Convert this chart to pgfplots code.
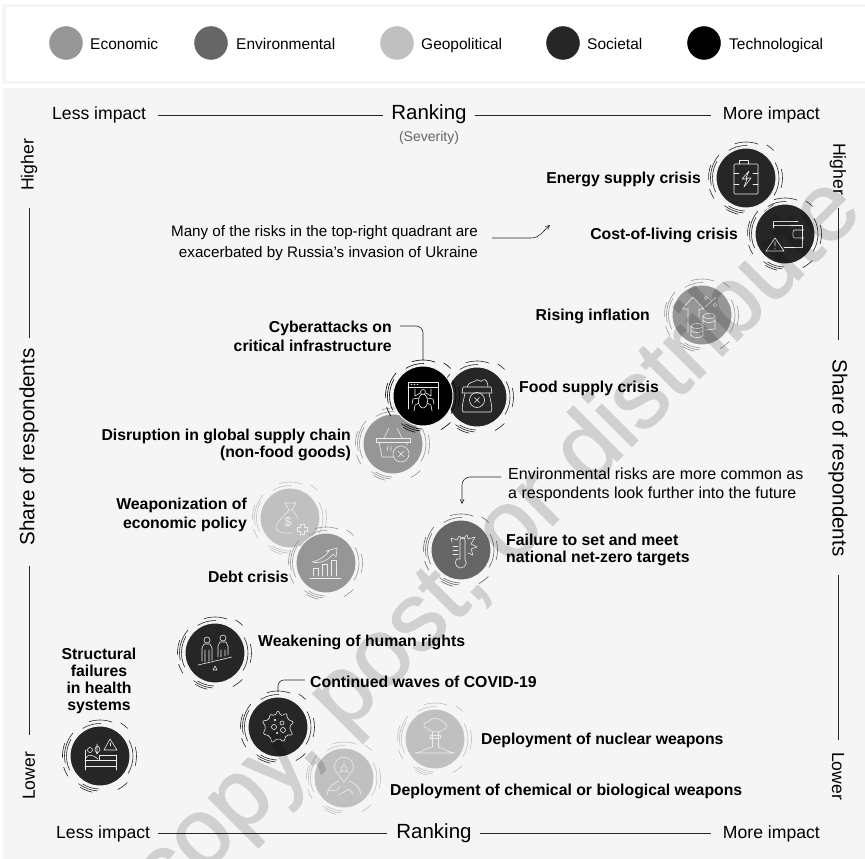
\documentclass[border=0pt]{standalone}
\usepackage{pgfplots}
\pgfplotsset{compat=1.18}
\usetikzlibrary{arrows.meta}
\usepackage{fontspec}
\setmainfont{Liberation Sans}
\newfontfamily\wmfont[FakeBold=1.5]{Liberation Sans}
\definecolor{panel}{HTML}{F5F5F5}
\definecolor{eco}{HTML}{969696}
\definecolor{env}{HTML}{666666}
\definecolor{geo}{HTML}{C0C0C0}
\definecolor{soc}{HTML}{262626}
\definecolor{tec}{HTML}{000000}
\definecolor{ico}{HTML}{EDEDED}

\newcommand{\sz}[1]{\fontsize{#1}{#1}\selectfont}

% bubble mark: disk, broken rings, icon. name, colour, ring rotation, icon
\newcommand{\riskmark}[4]{%
  \pgfdeclareplotmark{#1}{%
    \begin{scope}[x=1pt,y=1pt]
      \fill[#2,draw=panel,line width=1pt] (0,0) circle (30);
      \begin{scope}[rotate=#3,draw=#2,line width=.6pt]
        \draw (122:32.5) arc (122:88:32.5);
        \draw (108:36) arc (108:70:36);
        \draw (58:39) arc (58:45:39);
        \draw (150:33.5) arc (150:205:33.5);
        \draw (140:35.5) arc (140:192:35.5);
        \draw (160:37.5) arc (160:183:37.5);
        \draw (197:38) arc (197:212:38);
        \draw (238:33) arc (238:268:33);
        \draw (232:35) arc (232:266:35);
        \draw (238:37) arc (238:258:37);
        \draw (-62:38) arc (-62:-44:38);
        \draw (28:33) arc (28:-32:33);
        \draw (14:36.5) arc (14:-16:36.5);
      \end{scope}
      \begin{scope}[draw=ico,line width=.6pt,line cap=round,line join=round]
        #4
      \end{scope}
    \end{scope}}}

\riskmark{energy}{soc}{0}{
  \draw[rounded corners=1pt] (-12,-16) rectangle (12,14);
  \draw (-7,14) -- (-7,18) -- (2,18) -- (2,14);
  \draw (-12,5) -- (-7,5) (7,5) -- (12,5) (-12,-6) -- (-7,-6) (7,-6) -- (12,-6);
  \draw (3,7) -- (-4,-1) -- (1,-1) -- (-2,-9) -- (5,0) -- (0,0) -- cycle;}
\riskmark{cost}{soc}{0}{
  \draw (-12,6) -- (-12,13) -- (13,13);
  \draw (-12,9) -- (17,9) -- (17,-13) -- (-1,-13);
  \draw[rounded corners=2pt] (19,4) -- (8,4) -- (8,-4) -- (19,-4);
  \draw (-10,-4) -- (-19,-17) -- (-1,-17) -- cycle (-10,-8) -- (-10,-12) (-10,-14) -- (-10,-15);}
\riskmark{inflation}{eco}{0}{
  \draw (-14,-17) -- (-14,6) -- (-20,6) -- (-9,18) -- (2,6) -- (-3,6) -- (-3,-2);
  \draw (4,17) circle (1.8) (13,10) circle (1.8) (3,8) -- (14,18);
  \draw (-5,-11) ellipse (6 and 2.5) (-11,-11) -- (-11,-21) (1,-11) -- (1,-21);
  \draw (-11,-15) arc (180:360:6 and 2.5) (-11,-20) arc (180:360:6 and 2.5);
  \draw (7,-1) ellipse (6 and 2.5) (1,-1) -- (1,-9) (13,-1) -- (13,-14) -- (3,-15);
  \draw (1,-5) arc (180:360:6 and 2.5);}
\riskmark{cyber}{tec}{0}{
  \draw (-15,-13) -- (-15,14) -- (15,14) -- (15,-13);
  \draw (-15,9) -- (15,9);
  \draw (-12,11.5) -- (-11,11.5) (-9,11.5) -- (-8,11.5) (-6,11.5) -- (-5,11.5);
  \draw (0,-5) ellipse (4.5 and 7) (0,4) circle (2.5);
  \draw (-3,3) -- (-8,0) -- (-8,7) (3,3) -- (8,0) -- (8,7);
  \draw (-4,-2) -- (-10,-3) -- (-11,-8) (4,-2) -- (10,-3) -- (11,-8);
  \draw (-4,-7) -- (-8,-9) -- (-9,-15) (4,-7) -- (8,-9) -- (9,-15);}
\riskmark{food}{soc}{0}{
  \draw (-14,10) -- (14,10) -- (15,4) -- (-15,4) -- cycle;
  \draw (-12,4) .. controls (-14,-6) and (-16,-12) .. (-14,-15) -- (14,-15) .. controls (16,-12) and (14,-6) .. (12,4);
  \draw (0,-3) circle (7.5) (-2.5,-5.5) -- (2.5,-.5) (2.5,-5.5) -- (-2.5,-.5);
  \draw (-10,10) .. controls (-8,16) and (-4,14) .. (-2,16) .. controls (1,20) and (3,13) .. (6,17) .. controls (9,19) and (11,14) .. (11,10);}
\riskmark{supply}{eco}{40}{
  \draw (-17,6) -- (17,6) -- (17,2) -- (-17,2) -- cycle;
  \draw (-14,2) -- (-11,-13) -- (1,-13) (14,2) -- (14,-1);
  \draw (-9,6) -- (-4,16) (9,6) -- (4,16);
  \draw (-6,-7) -- (-5,-2) (-2,-7) -- (-2,-2);
  \draw (8,-10) circle (8) (5,-13) -- (11,-7) (11,-13) -- (5,-7);}
\riskmark{weapon}{geo}{55}{
  \draw (-5,15) -- (6,15) -- (2,8) -- (-1,8) -- cycle;
  \draw (-1,8) .. controls (-6,2) and (-15,-6) .. (-14,-10) .. controls (-13,-16) and (-4,-15) .. (2,-15);
  \draw (2,8) .. controls (5,5) and (7,2) .. (8,-1);
  \node[text=ico,inner sep=0pt] at (-2,-4) {\sz{13}\$};
  \draw[rotate around={45:(12,-11)}] (7,-13) -- (10,-13) -- (10,-16) -- (14,-16) -- (14,-13) -- (17,-13) -- (17,-9) -- (14,-9) -- (14,-6) -- (10,-6) -- (10,-9) -- (7,-9) -- cycle;}
\riskmark{debt}{eco}{30}{
  \draw (-16,-15) -- (15,-15);
  \draw (-13,-13) -- (-13,-5) -- (-8,-5) -- (-8,-13);
  \draw (-4,-13) -- (-4,-1) -- (1,-1) -- (1,-13);
  \draw (5,-13) -- (5,3) -- (10,3) -- (10,-13);
  \draw (-14,1) .. controls (-6,3) and (0,7) .. (3,12) -- (0,12) -- (11,15) -- (10,6) -- (7,9) .. controls (3,3) and (-6,-1) .. (-14,1);}
\riskmark{netzero}{env}{0}{
  \draw (-1,-9) -- (-1,10) arc (180:0:2.5) -- (4,-9) arc (40:-220:5.5) -- cycle;
  \draw (-8,4) -- (-3,4) (-8,0) -- (-3,0) (-8,-4) -- (-3,-4);
  \draw (-10,12) -- (-9,8) (-10,12) -- (-4,10) -- (-2,14) -- (2,11) -- (6,15) -- (7,11) -- (14,13) -- (10,6) -- (16,3) -- (10,1) -- (12,-5) -- (7,-3);}
\riskmark{rights}{soc}{0}{
  \draw (-17,-12) -- (17,-4);
  \draw (-2,-17) -- (2,-17) -- (0,-13) -- cycle;
  \draw (-8,13) circle (3) (8,15) circle (3);
  \draw (-13,-8) -- (-13,5) -- (-11,9) -- (-5,9) -- (-3,5) -- (-3,-7) (-10,-9) -- (-10,3) (-6,-8) -- (-6,3);
  \draw (3,-4) -- (3,7) -- (5,11) -- (11,11) -- (13,7) -- (13,-2) (6,-4) -- (6,3) (10,-3) -- (10,3);}
\riskmark{covid}{soc}{0}{
  \draw[rounded corners=2pt] (0,17) -- (3,11) -- (9,14) -- (9,8) -- (16,5) -- (11,0) -- (15,-8) -- (8,-8) -- (6,-15) -- (0,-11) -- (-6,-16) -- (-8,-9) -- (-15,-7) -- (-12,0) -- (-16,6) -- (-9,7) -- (-8,13) -- (-3,11) -- cycle;
  \draw (-4,0) circle (2.5) (4,4) circle (2) (5,-3) circle (2.5) (-3,7) circle (1) (-1,-6) circle (1);}
\riskmark{health}{soc}{0}{
  \draw (-15,-14) -- (-15,6) (16,-14) -- (16,1) (-15,-10) -- (16,-10) (-15,-4) -- (16,-4) (-1,-4) -- (-1,1) -- (16,1);
  \draw (-10,6) circle (2.5) (-14,-2) .. controls (-12,2) and (-8,2) .. (-2,-3);
  \draw (-3,2) -- (-3,12) (-5,6) .. controls (-5,11) and (0,11) .. (0,6) -- (-3,2) -- cycle;
  \draw (10,17) -- (17,6) -- (4,6) -- cycle (10.5,13) -- (10.5,10);}
\riskmark{nuclear}{geo}{-30}{
  \draw (-8,11) .. controls (-13,11) and (-12,17) .. (-7,17) .. controls (-4,22) and (4,22) .. (8,17) .. controls (12,17) and (13,10) .. (8,9) .. controls (4,6) and (-5,6) .. (-8,11);
  \draw (-5,4) -- (5,4) -- (5,1) -- (-5,1) -- cycle;
  \draw (-3,7) -- (-3,-8) (3,7) -- (3,-8);
  \draw (-20,-14) .. controls (-12,-13) and (-9,-9) .. (-3,-8) (3,-8) .. controls (9,-9) and (12,-13) .. (20,-14) -- (-20,-14);}
\riskmark{chem}{geo}{-30}{
  \draw (0,-4) -- (-9,8) arc (200:-20:9.5) -- cycle;
  \draw (0,9) circle (3) (-5,5) -- (-2,8) (5,5) -- (2,8) (0,15) -- (0,12);
  \draw (-17,-17) .. controls (-16,-8) and (-10,-5) .. (-5,-3) (17,-17) .. controls (16,-8) and (10,-5) .. (5,-3);
  \draw (-16,-13) -- (-7,-12) -- (-4,-8) (-6,-17) -- (0,-14) -- (5,-11) -- (9,-16);}

\begin{document}
\begin{tikzpicture}
\useasboundingbox (0,0) rectangle (865pt,859pt);
% page background
\fill[white] (0,0) rectangle (865pt,859pt);
\fill[panel] (2pt,775pt) rectangle (865pt,855pt);
\fill[white] (6pt,778pt) rectangle (865pt,852pt);
\fill[panel] (3pt,0) rectangle (865pt,771pt);
\begin{axis}[
  at={(0,0)},anchor=south west,
  scale only axis,width=865pt,height=859pt,
  xmin=0,xmax=865,ymin=0,ymax=859,
  y dir=reverse,axis lines=none,clip=false,
  only marks,
]
% legend
\addplot[forget plot,mark=*,mark size=16.5pt,eco] coordinates {(66,43)};
\addplot[forget plot,mark=*,mark size=16.5pt,env] coordinates {(211,43)};
\addplot[forget plot,mark=*,mark size=16.5pt,geo] coordinates {(397,43)};
\addplot[forget plot,mark=*,mark size=16.5pt,soc] coordinates {(563,43)};
\addplot[forget plot,mark=*,mark size=16.5pt,tec] coordinates {(704,43)};
\tikzset{lg/.style={anchor=base west,inner sep=0pt,font=\sz{15.5}}}
\node[lg] at (axis cs:90,50) {Economic};
\node[lg] at (axis cs:236,50) {Environmental};
\node[lg] at (axis cs:421,50) {Geopolitical};
\node[lg] at (axis cs:587,50) {Societal};
\node[lg] at (axis cs:729,50) {Technological};

% bubbles, lower ones first where they overlap
\addplot[forget plot,mark=energy] coordinates {(746,178)};
\addplot[forget plot,mark=cost] coordinates {(785,234)};
\addplot[forget plot,mark=inflation] coordinates {(702,315)};
\addplot[forget plot,mark=supply] coordinates {(393,444)};
\addplot[forget plot,mark=food] coordinates {(477,397)};
\addplot[forget plot,mark=cyber] coordinates {(423,396)};
\addplot[forget plot,mark=weapon] coordinates {(290,518)};
\addplot[forget plot,mark=debt] coordinates {(326,563)};
\addplot[forget plot,mark=netzero] coordinates {(461,550)};
\addplot[forget plot,mark=rights] coordinates {(215,653)};
\addplot[forget plot,mark=nuclear] coordinates {(435,739)};
\addplot[forget plot,mark=chem] coordinates {(344,778)};
\addplot[forget plot,mark=covid] coordinates {(278,727)};
\addplot[forget plot,mark=health] coordinates {(100,756)};

% axis captions
\node[anchor=west,inner sep=0pt,font=\sz{17.6}] at (axis cs:52,115) {Less impact};
\node[inner sep=0pt,font=\sz{20.5}] at (axis cs:429,114) {Ranking};
\node[inner sep=0pt,font=\sz{14},text=black!60] at (axis cs:429,138) {(Severity)};
\node[anchor=east,inner sep=0pt,font=\sz{17.6}] at (axis cs:820,115) {More impact};
\draw[soc,line width=.9pt] (axis cs:158,115) -- (axis cs:383,115) (axis cs:475,115) -- (axis cs:711,115);
\node[anchor=west,inner sep=0pt,font=\sz{17.6}] at (axis cs:56,834) {Less impact};
\node[inner sep=0pt,font=\sz{20.5}] at (axis cs:434,833) {Ranking};
\node[anchor=east,inner sep=0pt,font=\sz{17.6}] at (axis cs:820,834) {More impact};
\draw[soc,line width=.9pt] (axis cs:158,833) -- (axis cs:387,833) (axis cs:480,833) -- (axis cs:711,833);

\node[rotate=90,inner sep=0pt,font=\sz{17.6}] at (axis cs:29,165) {Higher};
\node[rotate=90,inner sep=0pt,font=\sz{20.6}] at (axis cs:29,447) {Share of respondents};
\node[rotate=90,inner sep=0pt,font=\sz{17.6}] at (axis cs:29,776) {Lower};
\draw[soc,line width=.9pt] (axis cs:29,208) -- (axis cs:29,338) (axis cs:29,566) -- (axis cs:29,735);
\node[rotate=-90,inner sep=0pt,font=\sz{17.6}] at (axis cs:838,169) {Higher};
\node[rotate=-90,inner sep=0pt,font=\sz{20.6}] at (axis cs:838,458) {Share of respondents};
\node[rotate=-90,inner sep=0pt,font=\sz{17.6}] at (axis cs:838,776) {Lower};
\draw[soc,line width=.9pt] (axis cs:838,208) -- (axis cs:838,340) (axis cs:838,575) -- (axis cs:838,740);

% risk names
\tikzset{rl/.style={font=\sz{15.8}\bfseries,inner sep=0pt,align=#1},rl/.default=left}
\node[rl,anchor=east] at (axis cs:701,179) {Energy supply crisis};
\node[rl,anchor=east] at (axis cs:738,235) {Cost-of-living crisis};
\node[rl,anchor=east] at (axis cs:650,316) {Rising inflation};
\node[rl=right,anchor=east] at (axis cs:392,336) {Cyberattacks on\\[3pt]critical infrastructure};
\node[rl,anchor=west] at (axis cs:519,388) {Food supply crisis};
\node[rl=right,anchor=east] at (axis cs:351,445) {Disruption in global supply chain\\[1pt](non-food goods)};
\node[rl=right,anchor=east] at (axis cs:247,515) {Weaponization of\\[4pt]economic policy};
\node[rl,anchor=east] at (axis cs:289,577) {Debt crisis};
\node[rl=left,anchor=west] at (axis cs:506,550) {Failure to set and meet\\[2pt]national net-zero targets};
\node[rl,anchor=west] at (axis cs:258,642) {Weakening of human rights};
\node[rl,anchor=west] at (axis cs:310,682) {Continued waves of COVID-19};
\node[rl=center] at (axis cs:99,681) {Structural\\[1.3pt]failures\\[1.3pt]in health\\[1.3pt]systems};
\node[rl,anchor=west] at (axis cs:481,740) {Deployment of nuclear weapons};
\node[rl,anchor=west] at (axis cs:390,791) {Deployment of chemical or biological weapons};

% notes
\node[anchor=east,align=right,inner sep=0pt,font=\sz{15.2}] at (axis cs:478,243) {Many of the risks in the top-right quadrant are\\[5pt]exacerbated by Russia’s invasion of Ukraine};
\node[anchor=west,align=left,inner sep=0pt,font=\sz{16}] at (axis cs:508,485) {Environmental risks are more common as\\[3pt]a respondents look further into the future};
\draw[soc,line width=.6pt,-{Straight Barb[length=4pt,width=4pt]}] (axis cs:492,238) -- (axis cs:531,238) .. controls (axis cs:540,238) and (axis cs:543,231) .. (axis cs:550,225);
\draw[soc,line width=.6pt,rounded corners=8pt,-{Straight Barb[length=4pt,width=4pt]}] (axis cs:501,477) -- (axis cs:462,477) -- (axis cs:462,504);
\draw[soc,line width=.6pt,rounded corners=7pt] (axis cs:400,326) -- (axis cs:423,326) -- (axis cs:423,360);
\draw[soc,line width=.6pt,rounded corners=6pt] (axis cs:305,680) -- (axis cs:278,680) -- (axis cs:278,692);
\end{axis}
% watermark across the whole sheet
\begin{scope}[transparency group,opacity=.15]
\node[rotate=45,anchor=base,inner sep=0pt,text=black,font=\wmfont\sz{96}] at (516.5pt,297.5pt) {copy, post, or distribute};
\end{scope}
\end{tikzpicture}
\end{document}
